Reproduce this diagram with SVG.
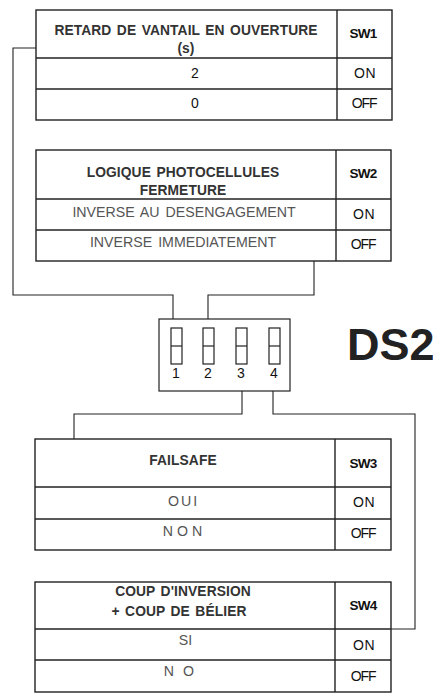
<svg xmlns="http://www.w3.org/2000/svg" width="433" height="696" viewBox="0 0 433 696">
<style>
  .tbl { fill: #fff; stroke: #222; stroke-width: 1.4; }
  .div { stroke: #222; stroke-width: 1.4; }
  .con { fill: none; stroke: #222; stroke-width: 1.1; }
  .hd { font-family: "Liberation Sans", Arial, sans-serif; font-weight: bold; font-size: 13.8px; fill: #333; letter-spacing: 0.1px; word-spacing: 1.5px; text-anchor: middle; }
  .sw { font-family: "Liberation Sans", Arial, sans-serif; font-weight: bold; font-size: 13.5px; fill: #111; letter-spacing: -0.7px; text-anchor: middle; }
  .st { font-family: "Liberation Sans", Arial, sans-serif; font-size: 14.2px; fill: #555; text-anchor: middle; word-spacing: 2px; }
  .on { font-family: "Liberation Sans", Arial, sans-serif; font-size: 14px; fill: #111; letter-spacing: 0.6px; text-anchor: middle; }
  .off { font-family: "Liberation Sans", Arial, sans-serif; font-size: 14px; fill: #111; letter-spacing: -1.1px; text-anchor: middle; }
  .num { font-family: "Liberation Sans", Arial, sans-serif; font-size: 14px; fill: #111; text-anchor: middle; }
  .dip { fill: #fff; stroke: #222; stroke-width: 1.2; }
</style>

<g id="connectors">
  <path class="con" d="M36,48 H13 V295 H173 V319"/>
  <path class="con" d="M314,261 V295 H208 V319"/>
  <path class="con" d="M242,391 V414 H74 V439"/>
  <path class="con" d="M273,391 V414 H415 V629 H391"/>
</g>

<g id="sw1-table">
  <rect class="tbl" x="36" y="10" width="356" height="110"/>
  <line class="div" x1="337" y1="10" x2="337" y2="120"/>
  <line class="div" x1="36" y1="58" x2="392" y2="58"/>
  <line class="div" x1="36" y1="89" x2="392" y2="89"/>
  <text class="hd" x="186" y="35">RETARD DE VANTAIL EN OUVERTURE</text>
  <text class="hd" x="186" y="53">(s)</text>
  <text class="sw" x="363" y="38">SW1</text>
  <text class="num" x="195" y="78">2</text>
  <text class="on" x="365" y="78">ON</text>
  <text class="num" x="195" y="108">0</text>
  <text class="off" x="364" y="108">OFF</text>
</g>

<g id="sw2-table">
  <rect class="tbl" x="36" y="150" width="355" height="111"/>
  <line class="div" x1="336" y1="150" x2="336" y2="261"/>
  <line class="div" x1="36" y1="199" x2="391" y2="199"/>
  <line class="div" x1="36" y1="230" x2="391" y2="230"/>
  <text class="hd" x="183" y="177">LOGIQUE PHOTOCELLULES</text>
  <text class="hd" x="183" y="195">FERMETURE</text>
  <text class="sw" x="363" y="178">SW2</text>
  <text class="st" x="184" y="217">INVERSE AU DESENGAGEMENT</text>
  <text class="on" x="364" y="219">ON</text>
  <text class="st" x="183" y="247">INVERSE IMMEDIATEMENT</text>
  <text class="off" x="363" y="249">OFF</text>
</g>

<g id="ds2">
  <rect class="dip" x="159" y="319" width="131" height="72"/>
  <rect class="dip" x="171" y="328" width="11" height="36"/>
  <line class="dip" x1="171" y1="346" x2="182" y2="346"/>
  <rect class="dip" x="203" y="328" width="11" height="36"/>
  <line class="dip" x1="203" y1="346" x2="214" y2="346"/>
  <rect class="dip" x="236" y="328" width="11" height="36"/>
  <line class="dip" x1="236" y1="346" x2="247" y2="346"/>
  <rect class="dip" x="269" y="328" width="11" height="36"/>
  <line class="dip" x1="269" y1="346" x2="280" y2="346"/>
  <text class="num" x="176" y="378">1</text>
  <text class="num" x="208" y="378">2</text>
  <text class="num" x="241" y="378">3</text>
  <text class="num" x="274" y="378">4</text>
  <text x="347" y="360" font-family="Liberation Sans, Arial, sans-serif" font-weight="bold" font-size="45" fill="#222">DS2</text>
</g>

<g id="sw3-table">
  <rect class="tbl" x="35" y="439" width="356" height="111"/>
  <line class="div" x1="335" y1="439" x2="335" y2="550"/>
  <line class="div" x1="35" y1="487" x2="391" y2="487"/>
  <line class="div" x1="35" y1="519" x2="391" y2="519"/>
  <text class="hd" x="183" y="465" letter-spacing="0.6">FAILSAFE</text>
  <text class="sw" x="363" y="468">SW3</text>
  <text class="st" x="183.5" y="506" letter-spacing="2">OUI</text>
  <text class="on" x="364" y="507">ON</text>
  <text class="st" x="184.5" y="536" letter-spacing="4">NON</text>
  <text class="off" x="363" y="538">OFF</text>
</g>

<g id="sw4-table">
  <rect class="tbl" x="35" y="582" width="356" height="110"/>
  <line class="div" x1="335" y1="582" x2="335" y2="692"/>
  <line class="div" x1="35" y1="629" x2="391" y2="629"/>
  <line class="div" x1="35" y1="660" x2="391" y2="660"/>
  <text class="hd" x="183" y="596">COUP D'INVERSION</text>
  <text class="hd" x="179" y="616">+ COUP DE BÉLIER</text>
  <text class="sw" x="363" y="610">SW4</text>
  <text class="st" x="185.5" y="645">SI</text>
  <text class="on" x="364" y="650">ON</text>
  <text class="st" x="183.5" y="676" letter-spacing="9">NO</text>
  <text class="off" x="363" y="681">OFF</text>
</g>
</svg>
